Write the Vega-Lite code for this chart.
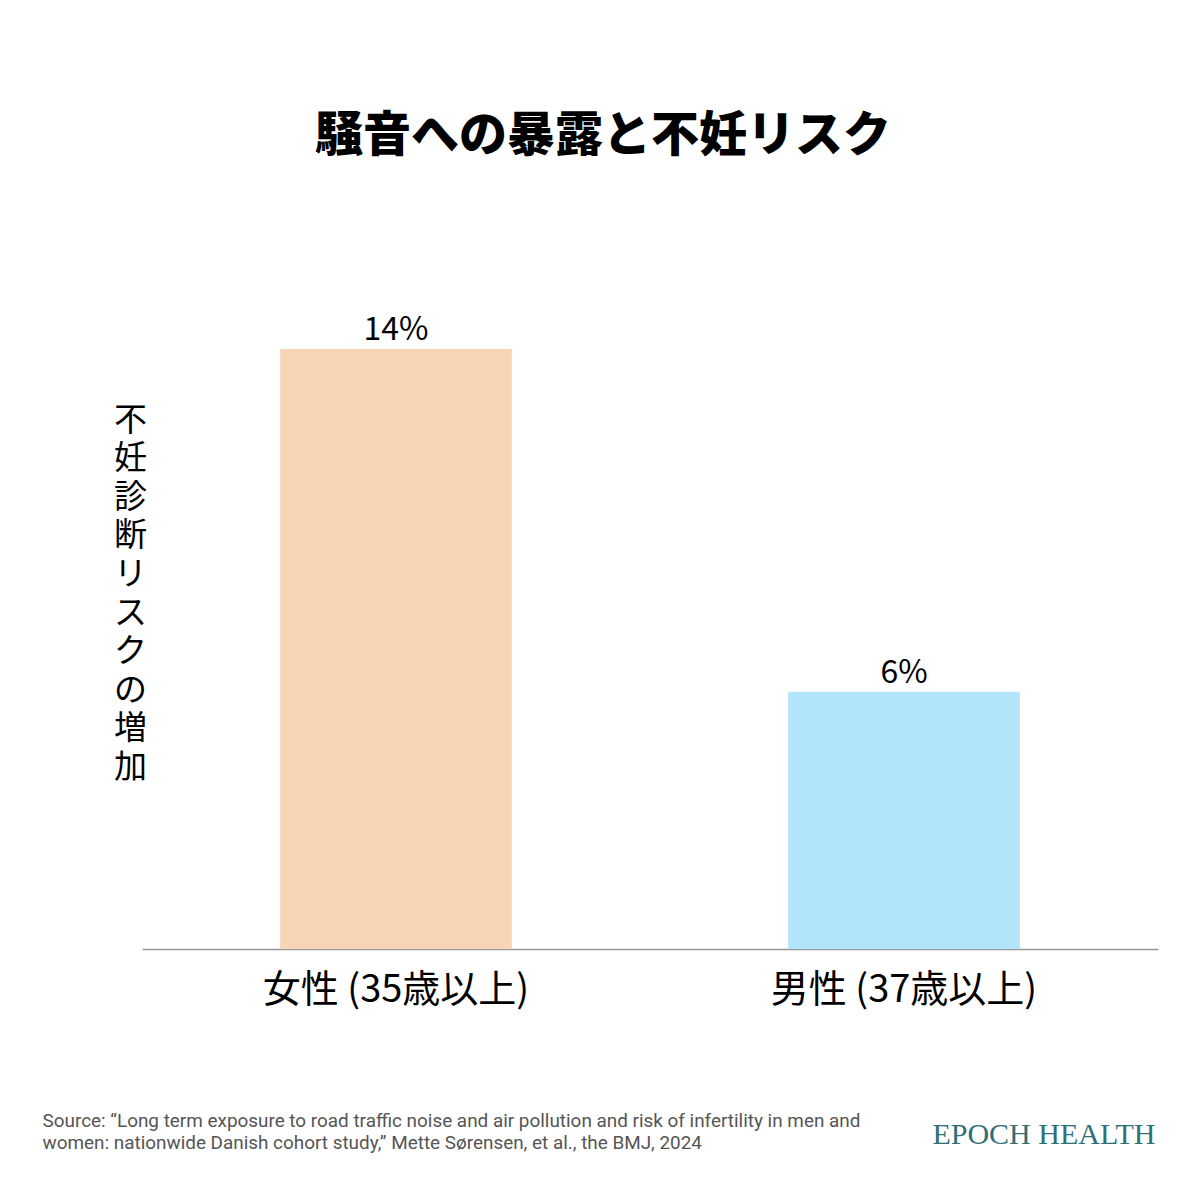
{
  "$schema": "https://vega.github.io/schema/vega-lite/v6.json",
  "autosize": {"type": "none"},
  "width": 1016,
  "height": 600,
  "padding": {"left": 142, "top": 349, "right": 46, "bottom": 247},
  "background": "white",
  "config": {"view": {"stroke": null}, "font": "Noto Sans CJK JP"},
  "title": {
    "text": "騒音への暴露と不妊リスク",
    "font": "Noto Sans CJK JP",
    "fontSize": 48,
    "fontWeight": 900,
    "color": "#000000",
    "anchor": "middle",
    "frame": "group",
    "dx": -47,
    "offset": 153
  },
  "data": {
    "values": [
      {"group": "女性 (35歳以上)", "risk": 14, "label": "14%"},
      {"group": "男性 (37歳以上)", "risk": 6, "label": "6%"}
    ]
  },
  "encoding": {
    "x": {
      "field": "group",
      "type": "nominal",
      "sort": null,
      "scale": {"paddingInner": 0, "paddingOuter": 0},
      "axis": {
        "labelAngle": 0,
        "labelLimit": 0,
        "labelFont": "Noto Sans CJK JP",
        "labelFontSize": 38,
        "labelColor": "#000000",
        "labelPadding": 22,
        "ticks": false,
        "domainColor": "#999999",
        "domainWidth": 1.5,
        "title": [
          "Source: “Long term exposure to road traffic noise and air pollution and risk of infertility in men and",
          "women: nationwide Danish cohort study,” Mette Sørensen, et al., the BMJ, 2024"
        ],
        "titleFont": "Roboto",
        "titleFontSize": 18.9,
        "titleFontWeight": "normal",
        "titleColor": "#555555",
        "titleAlign": "left",
        "titleAnchor": "start",
        "titleBaseline": "top",
        "titleLineHeight": 22,
        "titleX": -100,
        "titleY": 162
      }
    },
    "y": {
      "field": "risk",
      "type": "quantitative",
      "scale": {"domain": [0, 14]},
      "axis": {
        "labels": false,
        "ticks": false,
        "domain": false,
        "grid": false,
        "title": ["不", "妊", "診", "断", "リ", "ス", "ク", "の", "増", "加"],
        "titleFont": "Noto Sans CJK JP",
        "titleFontSize": 33,
        "titleFontWeight": "normal",
        "titleColor": "#000000",
        "titleAngle": 0,
        "titleAlign": "center",
        "titleBaseline": "top",
        "titleLineHeight": 38.6,
        "titleX": -12,
        "titleY": 55
      }
    }
  },
  "layer": [
    {
      "mark": {"type": "bar", "width": {"band": 0.456}},
      "encoding": {
        "color": {
          "field": "group",
          "type": "nominal",
          "sort": null,
          "scale": {"range": ["#f7d4b5", "#b3e5fa"]},
          "legend": null
        }
      }
    },
    {
      "mark": {
        "type": "text",
        "baseline": "bottom",
        "dy": -2,
        "font": "Noto Sans CJK JP",
        "fontSize": 32,
        "color": "#000000"
      },
      "encoding": {
        "text": {"field": "label"},
        "y": {
          "field": "risk",
          "type": "quantitative",
          "axis": {
            "orient": "right",
            "labels": false,
            "ticks": false,
            "domain": false,
            "grid": false,
            "title": "EPOCH HEALTH",
            "titleFont": "Liberation Serif",
            "titleFontSize": 30,
            "titleFontWeight": "normal",
            "titleColor": "#2f6f78",
            "titleAngle": 0,
            "titleAlign": "right",
            "titleBaseline": "alphabetic",
            "titleX": -3,
            "titleY": 794
          }
        }
      }
    }
  ],
  "resolve": {"axis": {"y": "independent"}}
}
